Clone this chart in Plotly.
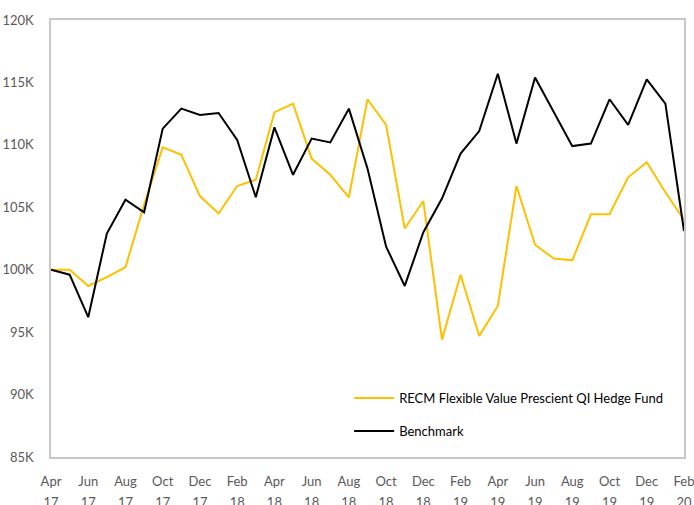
import plotly.graph_objects as go

months = ["Apr 17","May 17","Jun 17","Jul 17","Aug 17","Sep 17","Oct 17","Nov 17","Dec 17",
          "Jan 18","Feb 18","Mar 18","Apr 18","May 18","Jun 18","Jul 18","Aug 18","Sep 18",
          "Oct 18","Nov 18","Dec 18","Jan 19","Feb 19","Mar 19","Apr 19","May 19","Jun 19",
          "Jul 19","Aug 19","Sep 19","Oct 19","Nov 19","Dec 19","Jan 20","Feb 20"]

fund = [100.0, 100.0, 98.7, 99.4, 100.2, 105.2, 109.8, 109.2, 105.9,
        104.5, 106.7, 107.2, 112.6, 113.3, 108.9, 107.6, 105.8, 113.65,
        111.6, 103.3, 105.5, 94.4, 99.6, 94.7, 97.1, 106.7, 102.0,
        100.9, 100.75, 104.45, 104.45, 107.4, 108.6, 106.2, 104.0]

bench = [100.0, 99.6, 96.2, 102.9, 105.6, 104.6, 111.3, 112.9, 112.4,
         112.55, 110.4, 105.8, 111.4, 107.6, 110.5, 110.2, 112.9, 108.1,
         101.85, 98.7, 103.0, 105.7, 109.3, 111.1, 115.7, 110.1, 115.4,
         112.7, 109.9, 110.1, 113.65, 111.6, 115.25, 113.3, 103.1]

y_ticks = [85, 90, 95, 100, 105, 110, 115, 120]
y_tick_labels = [f"{v}K" for v in y_ticks]
x_tick_vals = months[::2]
x_tick_labels = ["<br>".join(f"<span style='font-size:13px'>{p}</span>" for p in m.split(" "))
                 for m in x_tick_vals]

fig = go.Figure()
fig.add_trace(go.Scatter(x=months, y=fund, mode="lines",
                         name="RECM Flexible Value Prescient QI Hedge Fund",
                         line=dict(color="#FFC000", width=2), legendgroup="a"))
fig.add_trace(go.Scatter(x=months, y=bench, mode="lines", name="Benchmark",
                         line=dict(color="#000000", width=2), legendgroup="b"))

axis_common = dict(showline=True, linecolor="#C8C8C8", linewidth=1.5, mirror=True,
                   showgrid=False, zeroline=False, automargin=False)

fig.update_layout(
    width=694, height=505,
    margin=dict(l=51, r=10, t=20, b=48),
    paper_bgcolor="white", plot_bgcolor="white",
    font=dict(family="Lato", size=13, color="#595959"),
    xaxis=dict(tickmode="array", tickvals=x_tick_vals, ticktext=x_tick_labels,
               range=[0, len(months) - 1], ticks="", ticklabelstandoff=8,
               tickfont=dict(size=16), **axis_common),
    yaxis=dict(tickmode="array", tickvals=y_ticks, ticktext=y_tick_labels,
               range=[85, 120], ticks="", ticklabelstandoff=13, **axis_common),
    showlegend=True,
    legend=dict(x=0.471, y=0.169, xanchor="left", yanchor="top", itemwidth=40,
                bgcolor="rgba(0,0,0,0)", traceorder="grouped", tracegroupgap=13,
                font=dict(family="Lato", size=13, color="#000000")),
)

fig.write_html("out.html", config={"displayModeBar": False},
               post_script="document.body.style.margin='0px';document.body.style.overflow='hidden';")
